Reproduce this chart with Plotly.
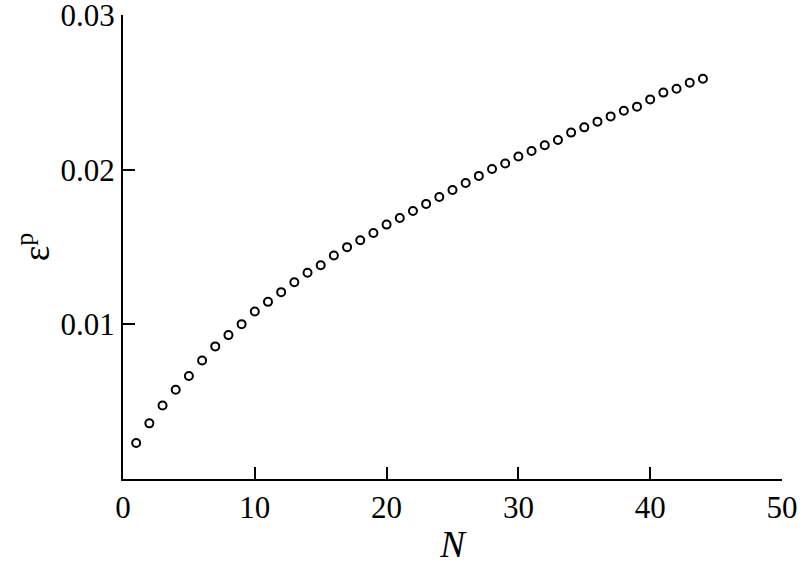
import plotly.graph_objects as go

# cycle number N and accumulated plastic strain
n_cycles = list(range(1, 45))
strain_p = [
    0.00233, 0.00360, 0.00476, 0.00577, 0.00666, 0.00767, 0.00858, 0.00931,
    0.01002, 0.01084, 0.01146, 0.01209, 0.01273, 0.01334, 0.01383, 0.01446,
    0.01500, 0.01545, 0.01592, 0.01646, 0.01689, 0.01734, 0.01780, 0.01825,
    0.01870, 0.01915, 0.01961, 0.02006, 0.02041, 0.02086, 0.02122, 0.02159,
    0.02193, 0.02241, 0.02275, 0.02312, 0.02346, 0.02383, 0.02409, 0.02456,
    0.02500, 0.02525, 0.02564, 0.02590,
]

x_ticks = [0, 10, 20, 30, 40, 50]
y_ticks = [0.01, 0.02, 0.03]
y_labels = ["0.01", "0.02", "0.03"]

font = "Liberation Serif, Times New Roman, serif"

fig = go.Figure()
fig.add_trace(go.Scatter(
    x=n_cycles, y=strain_p, mode="markers",
    marker=dict(symbol="circle-open", size=8, color="black",
                line=dict(width=2, color="black")),
    showlegend=False,
))

fig.update_layout(
    width=800, height=565,
    margin=dict(l=123, r=18, t=15, b=86),
    paper_bgcolor="white", plot_bgcolor="white",
    font=dict(family=font, size=31, color="black"),
)
fig.update_xaxes(
    range=[0, 50.001], tickvals=x_ticks, ticks="inside", ticklen=12,
    tickwidth=2, tickcolor="black", showline=True, linecolor="black",
    linewidth=2, showgrid=False, zeroline=False, automargin=False,
    ticklabeloverflow="allow",
    title=dict(text="<i>N</i>", standoff=8),
)
fig.update_yaxes(
    range=[0, 0.03002], tickvals=y_ticks, ticktext=y_labels, ticks="inside",
    ticklen=12, tickwidth=2, tickcolor="black", showline=True,
    linecolor="black", linewidth=2, showgrid=False, zeroline=False,
    automargin=False, ticklabeloverflow="allow",
    title=dict(text="ε<sup>p</sup>", standoff=0),
)

# drop the default 8px body margin so the figure sits at the window corner
fig.write_html("out.html", config={"displayModeBar": False},
               post_script="document.body.style.margin='0';")
